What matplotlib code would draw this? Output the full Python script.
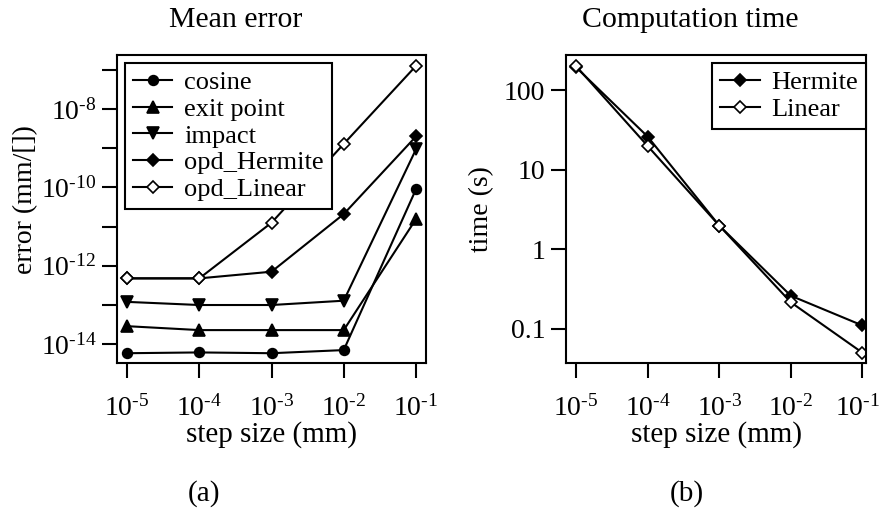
import numpy as np
import matplotlib
matplotlib.use("Agg")
import matplotlib.pyplot as plt
import matplotlib.transforms as mtransforms
from matplotlib.ticker import FixedLocator, FuncFormatter, NullLocator

plt.rcParams["font.family"] = ["Liberation Serif", "DejaVu Serif"]
plt.rcParams["mathtext.fontset"] = "custom"
plt.rcParams["mathtext.rm"] = "Liberation Serif"
plt.rcParams["mathtext.it"] = "Liberation Serif:italic"

# data
steps = [1e-5, 1e-4, 1e-3, 1e-2, 1e-1]

err_cosine = [10**-14.23, 10**-14.21, 10**-14.23, 10**-14.15, 10**-10.05]
err_exit = [10**-13.54, 10**-13.64, 10**-13.64, 10**-13.64, 10**-10.81]
err_impact = [10**-12.92, 10**-13.0, 10**-13.0, 10**-12.89, 10**-9.03]
err_hermite = [10**-12.32, 10**-12.32, 10**-12.15, 10**-10.68, 10**-8.70]
err_linear = [10**-12.32, 10**-12.32, 10**-10.90, 10**-8.89, 10**-6.90]

time_hermite = [193, 26, 1.98, 0.26, 0.11]
time_linear = [200, 19.8, 1.98, 0.215, 0.050]

fig = plt.figure(figsize=(8.83, 5.11), dpi=100)
ax1 = fig.add_axes([0.1325, 0.2896, 0.350, 0.6028])
ax2 = fig.add_axes([0.641, 0.2896, 0.3398, 0.6028])

lw = 1.5
def draw(ax, y, marker, ms, face, label):
    ax.plot(steps, y, color="black", lw=lw, marker=marker, ms=ms,
            mfc=face, mec="black", mew=1.2, label=label)

draw(ax1, err_cosine, "o", 7, "black", "cosine")
draw(ax1, err_exit, "^", 8, "black", "exit point")
draw(ax1, err_impact, "v", 8, "black", "impact")
draw(ax1, err_hermite, "D", 6.3, "black", "opd_Hermite")
draw(ax1, err_linear, "D", 6.3, "white", "opd_Linear")

draw(ax2, time_hermite, "D", 6.3, "black", "Hermite")
draw(ax2, time_linear, "D", 6.3, "white", "Linear")

def pow10(e):
    sign = "\u2010" if e < 0 else ""
    return "$\\mathregular{10^{%s%d}}$" % (sign, abs(e))

def xfmt(v, pos):
    return pow10(int(round(np.log10(v))))

def yfmt1(v, pos):
    e = int(round(np.log10(v)))
    return pow10(e) if e % 2 == 0 else ""

def yfmt2(v, pos):
    return {0.1: "0.1", 1: "1", 10: "10", 100: "100"}.get(round(v, 3), "")

for ax in (ax1, ax2):
    ax.set_xscale("log")
    ax.set_yscale("log")
    ax.xaxis.set_major_locator(FixedLocator(steps))
    ax.xaxis.set_major_formatter(FuncFormatter(xfmt))
    ax.xaxis.set_minor_locator(NullLocator())
    ax.yaxis.set_minor_locator(NullLocator())
    for s in ax.spines.values():
        s.set_linewidth(lw)
    ax.tick_params(direction="out", length=11, width=lw, labelsize=20, pad=4)
    ax.tick_params(axis="x", pad=12)
    ax.set_xlabel("step size (mm)", fontsize=21, labelpad=0)

ax1.set_xlim(10**-5.14, 10**-0.86)
ax1.set_ylim(10**-14.48, 10**-6.62)
ax1.yaxis.set_major_locator(FixedLocator(10.0**np.arange(-14, -6)))
ax1.yaxis.set_major_formatter(FuncFormatter(yfmt1))
ax1.set_ylabel("error (mm/[])", fontsize=20)
ax1.yaxis.set_label_coords(-0.255, 0.532)

ax2.set_xlim(10**-5.14, 10**-0.95)
ax2.set_ylim(10**-1.43, 10**2.44)
ax2.yaxis.set_major_locator(FixedLocator([0.1, 1, 10, 100]))
ax2.yaxis.set_major_formatter(FuncFormatter(yfmt2))
ax2.set_ylabel("time (s)", fontsize=20, labelpad=7)

leg_kw = dict(fontsize=19, frameon=True, fancybox=False, edgecolor="black",
              framealpha=1, numpoints=1, handlelength=1.5, handletextpad=0.45,
              labelspacing=0.12, borderpad=0.3)
l1 = ax1.legend(loc="upper left", bbox_to_anchor=(8 / 309, 1 - 8 / 308),
                borderaxespad=0, **leg_kw)
l1.get_frame().set_linewidth(lw)
l2 = ax2.legend(loc="upper right", bbox_to_anchor=(1, 1 - 8 / 308),
                borderaxespad=0, **leg_kw)
l2.get_frame().set_linewidth(lw)

fig.text(236 / 883, 1 - 20 / 511, "Mean error", ha="center", va="center", fontsize=21.5)
fig.text(690 / 883, 1 - 20 / 511, "Computation time", ha="center", va="center", fontsize=21.5)
fig.text(204 / 883, 1 - 494 / 511, "(a)", ha="center", va="center", fontsize=21)
fig.text(687 / 883, 1 - 494 / 511, "(b)", ha="center", va="center", fontsize=21)

# keep the last tick label of (b) inside the picture
fig.canvas.draw()
last = ax2.xaxis.get_major_ticks()[-1].label1
last.set_transform(last.get_transform()
                   + mtransforms.ScaledTranslation(-5 / 100, 0, fig.dpi_scale_trans))

fig.savefig("out.png", dpi=100)
